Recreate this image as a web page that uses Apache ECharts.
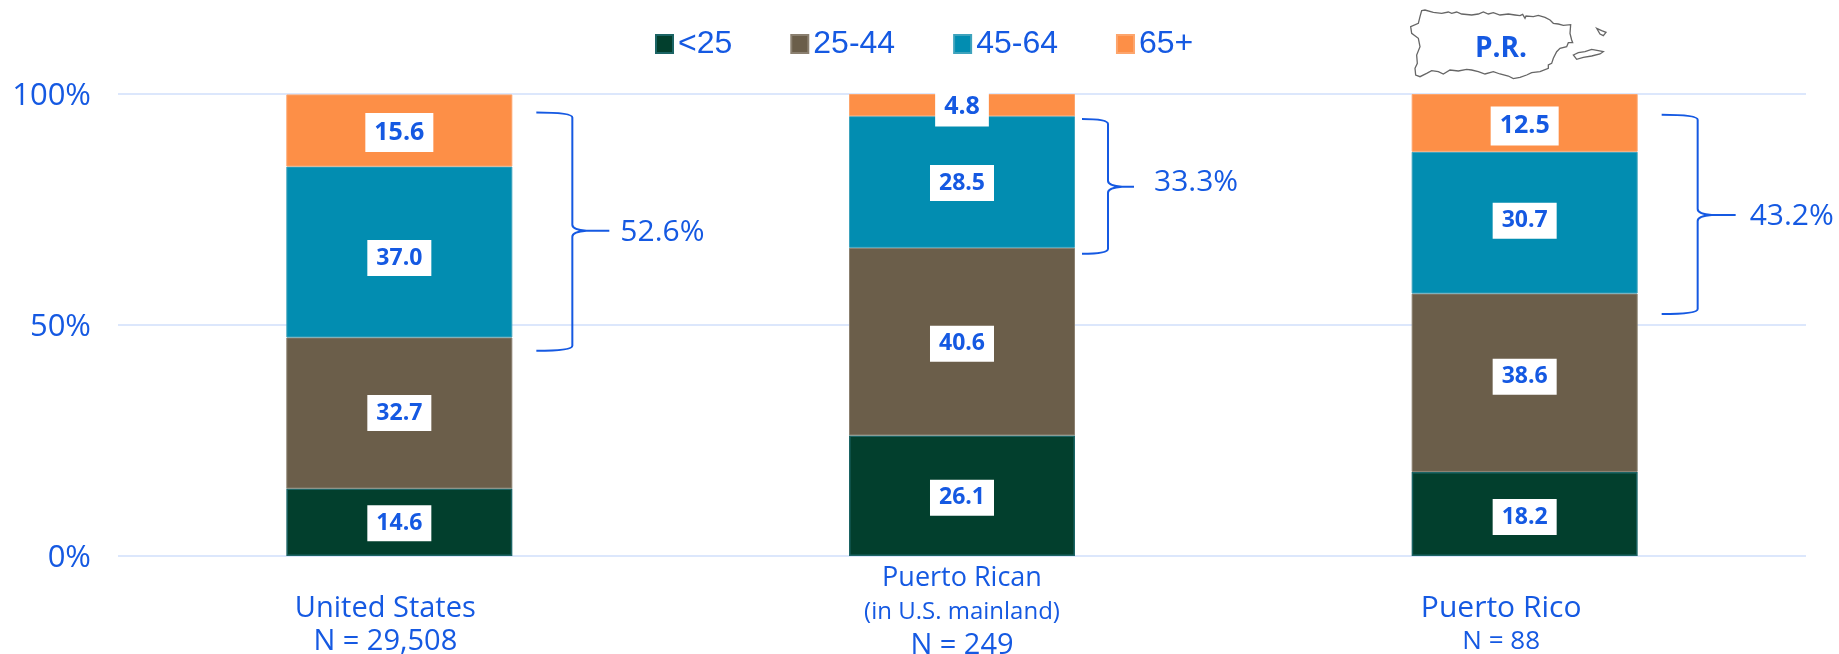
<!DOCTYPE html>
<html>
<head>
<meta charset="utf-8">
<style>
  html, body { margin: 0; padding: 0; background: #fff; }
  #main { width: 1839px; height: 654px; }
</style>
<script src="https://cdn.jsdelivr.net/npm/echarts@6/dist/echarts.min.js"></script>
</head>
<body>
<div id="main"></div>
<script>
const categories = ['United States', 'Puerto Rican', 'Puerto Rico'];
const under25 = [14.6, 26.1, 18.2];
const age25to44 = [32.7, 40.6, 38.6];
const age45to64 = [37.0, 28.5, 30.7];
const age65plus = [15.6, 4.8, 12.5];
const seriesNames = ['<25', '25-44', '45-64', '65+'];
const yTicks = [0, 50, 100];

// brackets: label and where it starts, points and ends on the value axis
const braceLabels = ['52.6%', '33.3%', '43.2%'];
const braceTop = [96, 94.6, 95.5];
const braceMid = [70.4, 79.9, 73.8];
const braceBottom = [44.4, 65.4, 52.4];

const BLUE = '#1559E2';
const font = '"Open Sans", sans-serif';

// the original's labels are not quite centred in their segments
const labelNudge = [[1, 2, 3], [0, 2, -6], [6, 1, -2], [2, 2, 3]];
// offsets of each bracket from its bar centre: start, stem, tip, text gap, text dy
const braceOffsets = [[137, 173, 210, 11, 2], [120, 146, 172, 20, -4], [137, 173, 211, 14, 1]];

// Puerto Rico outline, traced at 3x from x=1400
const prMain = [[65,32],[75,30],[100,37],[125,40],[145,36],[155,40],[170,36],[185,42],[215,45],[235,42],[250,36],[265,42],[280,38],[300,45],[325,42],[345,45],[360,47],[368,43],[375,55],[378,48],[400,50],[415,46],[435,52],[450,60],[460,70],[475,72],[490,76],[512,74],[510,100],[515,120],[518,128],[505,128],[500,140],[480,145],[470,155],[460,175],[455,190],[445,195],[445,205],[420,215],[395,218],[380,225],[360,232],[340,236],[325,228],[300,222],[280,215],[255,222],[235,215],[215,210],[200,208],[175,213],[150,210],[130,222],[115,215],[95,212],[80,220],[60,230],[47,225],[45,205],[52,190],[50,165],[60,140],[55,115],[35,100],[32,80],[55,70],[60,50]];
const prVieques = [[520,165],[535,158],[555,155],[575,148],[595,152],[610,155],[600,162],[575,168],[550,172],[530,178]];
const prCulebra = [[590,85],[605,92],[618,97],[610,107],[600,102]];

function outline(pts) {
  return pts.map(p => [1400 + p[0] / 3, p[1] / 3]);
}

function bar(idx, data, color, border, borderW, size, lineH, padV, padH) {
  return {
    name: seriesNames[idx],
    type: 'bar',
    stack: 'age',
    barWidth: 226,
    data: data.map((v, i) => ({ value: v, label: { offset: [0, labelNudge[idx][i]] } })),
    itemStyle: { color: color, borderColor: border, borderWidth: borderW },
    label: {
      show: true,
      position: 'inside',
      formatter: p => p.value.toFixed(1),
      fontFamily: font,
      fontWeight: 'bold',
      fontSize: size,
      lineHeight: lineH,
      color: BLUE,
      backgroundColor: '#fff',
      padding: [padV, padH]
    }
  };
}

// bracket beside each bar, placed with the chart's own axes
function renderBrace(params, api) {
  const i = api.value(0);
  const top = api.coord([i, braceTop[i]]);
  const mid = api.coord([i, braceMid[i]])[1];
  const bot = api.coord([i, braceBottom[i]])[1];
  const cx = top[0], y0 = top[1];
  const o = braceOffsets[i];
  const x0 = cx + o[0], s = cx + o[1], tip = cx + o[2];
  const d = `M${x0} ${y0}Q${s} ${y0} ${s} ${y0 + 5}L${s} ${mid - 6}Q${s} ${mid - 1} ${s + 14} ${mid}L${tip} ${mid}` +
    `M${s + 14} ${mid}Q${s} ${mid + 1} ${s} ${mid + 6}L${s} ${bot - 5}Q${s} ${bot} ${x0} ${bot}`;
  return {
    type: 'group',
    children: [
      { type: 'path', shape: { pathData: d }, style: { fill: null, stroke: BLUE, lineWidth: 2 } },
      {
        type: 'text', x: tip + o[3], y: mid + o[4],
        style: { text: braceLabels[i], font: '30px ' + font, fill: BLUE, verticalAlign: 'middle' }
      }
    ]
  };
}

const chart = echarts.init(document.getElementById('main'));
const xLabels = [
  '{gap|}\n{us|United States}\n{us|N = 29,508}',
  '{pr|Puerto Rican}\n{sub|(in U.S. mainland)}\n{n249|N = 249}',
  '{gap|}\n{rico|Puerto Rico}\n{n88|N = 88}'
];

chart.setOption({
  animation: false,
  textStyle: { fontFamily: font },
  legend: {
    left: 655,
    top: 28,
    padding: 0,
    itemWidth: 17,
    itemHeight: 18,
    itemGap: 58,
    icon: 'rect',
    data: seriesNames,
    textStyle: {
      fontFamily: '"Liberation Sans", sans-serif',
      fontSize: 32,
      color: BLUE
    }
  },
  grid: { left: 118, right: 33, top: 94, bottom: 98, outerBoundsMode: 'none' },
  xAxis: {
    type: 'category',
    data: categories,
    axisLine: { show: false },
    axisTick: { show: false },
    axisLabel: {
      margin: 6,
      interval: 0,
      color: BLUE,
      formatter: (v, i) => xLabels[i],
      rich: {
        gap: { fontSize: 10, lineHeight: 30 },
        us: { fontFamily: font, fontSize: 29, lineHeight: 33, color: BLUE, padding: [0, 28, 0, 0] },
        pr: { fontFamily: font, fontSize: 27, lineHeight: 33, color: BLUE },
        sub: { fontFamily: font, fontSize: 24, lineHeight: 34, color: BLUE },
        n249: { fontFamily: font, fontSize: 29, lineHeight: 33, color: BLUE },
        rico: { fontFamily: font, fontSize: 30, lineHeight: 33, color: BLUE, padding: [0, 47, 0, 0] },
        n88: { fontFamily: font, fontSize: 26, lineHeight: 33, color: BLUE, padding: [0, 47, 0, 0] }
      }
    }
  },
  yAxis: {
    type: 'value',
    min: yTicks[0],
    max: yTicks[2],
    interval: yTicks[1],
    axisLine: { show: false },
    axisTick: { show: false },
    splitLine: { lineStyle: { color: '#DCE7FC', width: 2 } },
    axisLabel: {
      margin: 27,
      color: BLUE,
      formatter: '{t|{value}%}',
      rich: { t: { fontFamily: font, fontSize: 31, color: BLUE, padding: [5, 0, 0, 0] } }
    }
  },
  series: [
    bar(0, under25, '#023F2D', '#1B6464', 1.5, 23, 22, 7, 9),
    bar(1, age25to44, '#6B5E4A', '#8b8070', 1, 23, 22, 7, 9),
    bar(2, age45to64, '#028DB1', '#3ea3bd', 1, 23, 22, 7, 9),
    bar(3, age65plus, '#FD8F47', '#fda56c', 1, 25, 23, 8, 9),
    {
      type: 'custom',
      renderItem: renderBrace,
      data: categories.map((c, i) => [i]),
      encode: { x: 0 },
      silent: true,
      z: 5
    }
  ],
  graphic: [
    { type: 'polygon', shape: { points: outline(prMain) }, style: { fill: '#fff', stroke: '#666', lineWidth: 1.3 } },
    { type: 'polygon', shape: { points: outline(prVieques) }, style: { fill: '#fff', stroke: '#666', lineWidth: 1.3 } },
    { type: 'polygon', shape: { points: outline(prCulebra) }, style: { fill: '#fff', stroke: '#666', lineWidth: 1.3 } },
    {
      type: 'text', x: 1501, y: 49,
      style: { text: 'P.R.', font: 'bold 28px ' + font, fill: BLUE, align: 'center', verticalAlign: 'middle' }
    }
  ]
});
</script>
</body>
</html>
